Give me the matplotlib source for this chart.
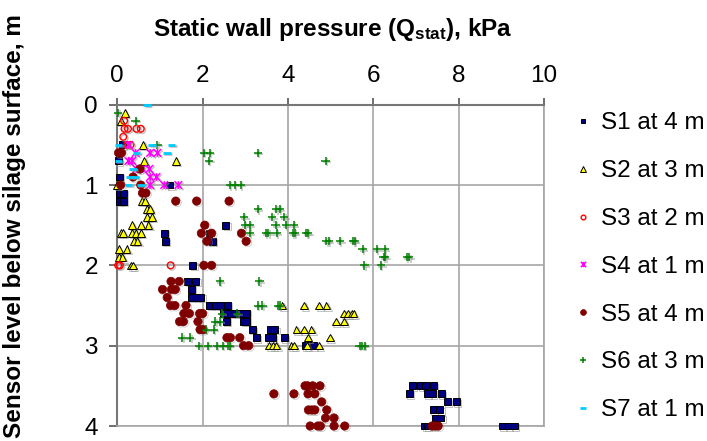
import matplotlib

matplotlib.use("Agg")
import matplotlib.pyplot as plt
import matplotlib.patheffects as pe
from matplotlib.path import Path

# depth levels (m) and pressures (kPa) read per sensor, row by row
s1_y = [0.5, 0.7, 0.9, 1.0, 1.1, 1.1, 1.2, 1.2, 1.5, 1.6, 1.6, 1.7, 1.7, 2.0,
        2.2, 2.2, 2.3, 2.4, 2.4, 2.4, 2.5, 2.5, 2.5, 2.5,
        2.6, 2.6, 2.6, 2.6, 2.6, 2.7, 2.7, 2.7, 2.8, 2.8, 2.8,
        2.9, 2.9, 2.9, 2.9, 3.0, 3.0, 3.5, 3.5, 3.5, 3.5, 3.6, 3.6, 3.6, 3.6,
        3.7, 3.7, 3.8, 3.8, 3.9, 3.9, 4.0, 4.0, 4.0, 4.0, 4.0]
s1_x = [0.12, 0.03, 0.05, 1.23, 0.06, 0.14, 0.05, 0.14, 2.54, 1.10, 2.15, 1.13, 2.23, 1.77,
        1.65, 1.84, 1.74, 1.74, 1.86, 1.96, 2.17, 2.29, 2.41, 2.58,
        2.48, 2.66, 2.80, 2.91, 3.03, 2.55, 2.96, 3.03, 3.17, 3.58, 3.69,
        3.26, 3.55, 3.64, 3.92, 4.40, 4.59, 6.92, 7.11, 7.22, 7.40, 6.84, 7.26, 7.39, 7.60,
        7.74, 7.95, 7.40, 7.56, 7.46, 7.58, 7.21, 7.27, 9.03, 9.16, 9.31]

s2_y = [0.1, 0.2, 0.5, 0.7, 0.7, 1.0, 1.2, 1.2, 1.3, 1.3, 1.4, 1.4, 1.5, 1.5, 1.5,
        1.6, 1.6, 1.6, 1.6, 1.6, 1.7, 1.7, 1.8, 1.8, 1.9, 1.9, 2.0, 2.0,
        2.5, 2.5, 2.5, 2.5, 2.6, 2.6, 2.6, 2.6, 2.7, 2.7, 2.8, 2.8, 2.8, 2.9, 2.9,
        3.0, 3.0, 3.0, 3.0, 3.0, 3.0, 3.0]
s2_x = [0.18, 0.08, 0.61, 0.63, 1.37, 0.0, 0.57, 0.65, 0.69, 0.77, 0.69, 0.81, 0.35, 0.55, 0.73,
        0.08, 0.14, 0.35, 0.43, 0.55, 0.39, 0.47, 0.04, 0.22, 0.04, 0.12, 0.32, 0.37,
        3.87, 4.38, 4.73, 4.90, 5.32, 5.41, 5.49, 5.54, 5.12, 5.32, 4.20, 4.37, 4.55, 4.47, 4.98,
        3.56, 3.65, 3.73, 4.08, 4.14, 4.45, 4.73]

s3_y = [0.2, 0.3, 0.3, 0.3, 0.3, 0.4, 0.5, 0.5, 2.0, 2.0, 2.0]
s3_x = [0.16, 0.17, 0.25, 0.45, 0.55, 0.14, 0.23, 0.31, 0.02, 0.06, 1.25]

s4_y = [0.5, 0.6, 0.6, 0.6, 0.7, 0.7, 0.8, 0.8, 0.8, 0.9, 0.9, 1.0, 1.0, 1.0]
s4_x = [0.27, 0.43, 0.77, 0.94, 0.26, 0.35, 0.45, 0.59, 0.75, 0.77, 0.92, 0.77, 1.10, 1.43]

s5_y = [0.6, 0.6, 0.8, 0.9, 1.0, 1.0, 1.1, 1.1, 1.2, 1.2, 1.2, 1.5, 1.6, 1.6, 1.6, 1.7, 1.7,
        2.0, 2.0, 2.2, 2.2, 2.3, 2.3, 2.3, 2.4, 2.5, 2.5, 2.5, 2.6, 2.6, 2.6, 2.6,
        2.7, 2.7, 2.7, 2.8, 2.8, 2.9, 2.9, 2.9, 3.0, 3.0,
        3.5, 3.5, 3.5, 3.5, 3.6, 3.6, 3.6, 3.6, 3.7, 3.8, 3.8, 3.8, 3.8, 3.9, 3.9,
        4.0, 4.0, 4.0, 4.0, 4.0, 4.0, 4.0, 4.0]
s5_x = [0.03, 0.10, 0.53, 0.37, 0.08, 0.55, 0.59, 0.67, 1.37, 1.86, 2.62, 2.05, 1.97, 2.21, 2.91, 2.10, 3.02,
        2.03, 2.21, 1.26, 1.45, 1.06, 1.27, 1.36, 1.17, 1.25, 1.35, 1.61, 1.56, 1.69, 1.93, 2.00,
        1.46, 1.55, 1.89, 1.94, 2.01, 2.57, 2.65, 2.87, 2.96, 3.08,
        4.40, 4.46, 4.58, 4.75, 3.67, 4.14, 4.47, 4.63, 4.79, 4.48, 4.56, 4.63, 4.91, 4.88, 5.08,
        4.52, 4.70, 4.76, 5.08, 5.33, 7.38, 7.45, 7.52]

s6_y = [0.1, 0.2, 0.5, 0.6, 0.6, 0.6, 0.7, 0.7, 1.0, 1.0, 1.0, 1.3, 1.3, 1.3, 1.4, 1.4, 1.4,
        1.5, 1.5, 1.5, 1.5, 1.5, 1.6, 1.6, 1.6, 1.6, 1.6, 1.6, 1.6, 1.6,
        1.7, 1.7, 1.7, 1.7, 1.7, 1.8, 1.8, 1.8, 1.9, 1.9, 1.9, 1.9, 2.0, 2.0,
        2.2, 2.2, 2.5, 2.5, 2.5, 2.5, 2.6, 2.6, 2.7, 2.7, 2.8, 2.8, 2.9, 2.9,
        3.0, 3.0, 3.0, 3.0, 3.0, 3.0, 3.0, 3.0, 3.0]
s6_x = [0.02, 0.43, 0.94, 2.03, 2.17, 3.29, 2.15, 4.88, 2.64, 2.76, 2.89, 3.29, 3.73, 3.81, 2.97, 3.63, 3.91,
        2.99, 3.10, 3.71, 3.95, 4.14, 3.10, 3.48, 3.54, 3.74, 4.12, 4.16, 4.43, 4.47,
        4.90, 4.96, 5.22, 5.53, 5.56, 5.75, 6.08, 6.27, 6.24, 6.28, 6.79, 6.84, 5.79, 6.18,
        2.40, 3.33, 3.30, 3.40, 3.76, 3.81, 2.45, 2.81, 2.30, 2.40, 2.08, 2.26, 1.52, 1.71,
        1.92, 2.12, 2.33, 2.48, 2.60, 2.64, 5.68, 5.74, 5.80]

s7_y = [0.0, 0.5, 0.5, 0.5, 0.6, 0.6, 0.7, 0.8, 0.9, 0.9, 1.0, 1.0]
s7_x = [0.70, 0.03, 0.82, 1.27, 0.45, 1.16, 0.03, 0.37, 0.30, 0.42, 0.26, 0.55]

labels = ["S1 at 4 m", "S2 at 3 m", "S3 at 2 m", "S4 at 1 m", "S5 at 4 m", "S6 at 3 m", "S7 at 1 m"]

plt.rcParams["font.family"] = "Liberation Sans"
plt.rcParams["mathtext.fontset"] = "custom"
plt.rcParams["mathtext.rm"] = "Liberation Sans:bold"
plt.rcParams["mathtext.it"] = "Liberation Sans:bold"
plt.rcParams["mathtext.bf"] = "Liberation Sans:bold"

# Excel-style star: an X with a vertical bar
star = Path([(-1, -1), (1, 1), (-1, 1), (1, -1), (0, 1), (0, -1)],
            [Path.MOVETO, Path.LINETO, Path.MOVETO, Path.LINETO, Path.MOVETO, Path.LINETO])

fig = plt.figure(figsize=(7.07, 4.41), dpi=100)
ax = fig.add_axes([0.1659, 0.034, 0.6035, 0.7286])

styles = [
    dict(marker="s", color="#000080", mec="black", mew=0.7, ms=5),
    dict(marker="^", color="#FFFF00", mec="black", mew=0.7, ms=5.5),
    dict(marker="o", color="none", mec="#FF0000", mew=1.0, ms=4.8),
    dict(marker=star, color="none", mec="#FF00FF", mew=1.1, ms=5.5),
    dict(marker="o", color="#800000", mec="#800000", mew=0.5, ms=6),
    dict(marker="+", color="#008000", mec="#008000", mew=1.1, ms=6),
    dict(marker="_", color="#00CCFF", mec="#00CCFF", mew=2.0, ms=5.5),
]
series = [(s1_x, s1_y), (s2_x, s2_y), (s3_x, s3_y), (s4_x, s4_y),
          (s5_x, s5_y), (s6_x, s6_y), (s7_x, s7_y)]

# faint grey drop shadow like the Excel markers
shadow = [pe.SimpleLineShadow(offset=(1, -1), shadow_color="#999999", alpha=0.6), pe.Normal()]

for (xs, ys), st, lab in zip(series, styles, labels):
    line, = ax.plot(xs, ys, ls="none", label=lab, clip_on=False, zorder=3,
                    marker=st["marker"], mfc=st["color"], mec=st["mec"], mew=st["mew"], ms=st["ms"])
    line.set_path_effects(shadow)

ax.set_xlim(0, 10)
ax.set_ylim(4, 0)
ax.set_xticks(range(0, 11, 2))
ax.set_yticks(range(0, 5))
ax.xaxis.tick_top()
ax.grid(True, color="#A6A6A6", lw=1.2)
ax.set_axisbelow(True)
for side in ["right", "bottom"]:
    ax.spines[side].set_color("#A6A6A6")
    ax.spines[side].set_linewidth(1.2)
for side in ["top", "left"]:
    ax.spines[side].set_color("#777777")
    ax.spines[side].set_linewidth(1.5)
ax.tick_params(axis="x", direction="out", length=5, width=1.2, color="#555555",
               labelsize=17.5, pad=8)
ax.tick_params(axis="y", direction="out", length=6, width=1.2, color="#555555",
               labelsize=17.5, pad=8)

fig.text(0.4703, 0.932, r"Static wall pressure (Q$_{\mathrm{stat}}$), kPa",
         ha="center", va="center", fontsize=17.5, fontweight="bold")
fig.text(0.021, 0.487, "Sensor level below silage surface, m", rotation=90,
         ha="center", va="center", fontsize=17.5, fontweight="bold")

leg = ax.legend(loc="upper left", bbox_to_anchor=(0.814, 0.745), bbox_transform=fig.transFigure,
                frameon=False, fontsize=17.5, markerscale=0.7, handlelength=0.6,
                handletextpad=0.45, labelspacing=1.06, borderpad=0, borderaxespad=0)
for h in leg.get_lines():
    h.set_path_effects([])

fig.savefig("out.png", dpi=100)
